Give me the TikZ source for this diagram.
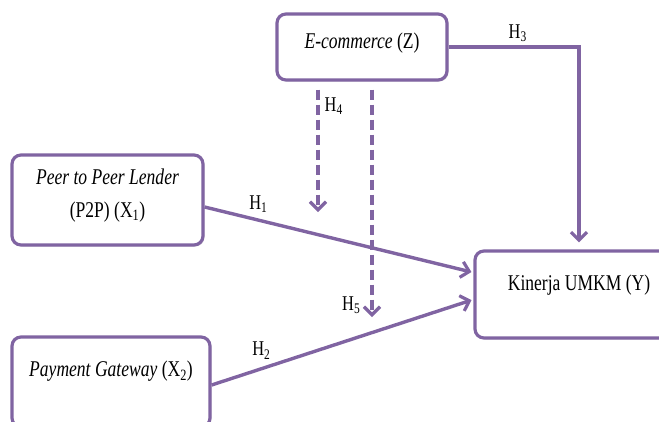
\documentclass[tikz,border=0pt]{standalone}
\usepackage{fontspec}
\setmainfont{Liberation Serif}[FakeStretch=0.78]
\usepackage{tikz}
\usetikzlibrary{positioning,calc,arrows.meta,shadows}

\definecolor{ungu}{HTML}{8064A2}

\tikzset{
	varbox/.style={draw=ungu, line width=3.2pt, rounded corners=9pt, fill=white,
		align=center, font=\fontsize{22.5}{33}\selectfont,
		drop shadow={opacity=0.25, shadow xshift=1.5pt, shadow yshift=-1.5pt}},
	hlabel/.style={font=\fontsize{21}{24}\selectfont, inner sep=1pt},
	arr/.style={draw=ungu, line width=3.4pt, -{Straight Barb[length=8pt, width=16pt, line width=3.2pt]}},
	darr/.style={arr, dash pattern=on 10pt off 5pt}
}

\begin{document}
\begin{tikzpicture}[x=1pt, y=-1pt]
		\clip (0,0) rectangle (659,421);
		\node[varbox, minimum width=170pt, minimum height=66pt, text depth=12pt] (Z) at (362,47) {\textit{E-commerce} (Z)};
		\node[varbox, minimum width=191pt, minimum height=90pt, text depth=14pt] (X1) at (107.5,200) {\textit{Peer to Peer Lender}\\(P2P) (X\textsubscript{1})};
		\node[varbox, minimum width=198pt, minimum height=90pt, text depth=26pt] (X2) at (111,382) {\textit{Payment Gateway} (X\textsubscript{2})};
		\node[varbox, minimum width=208pt, minimum height=87pt, text depth=24pt] (Y) at (579,294.5) {Kinerja UMKM (Y)};
		\coordinate (h4end) at (318,212);
		\coordinate (h5end) at (372,317);
		\draw[arr, shorten >=7pt] (Z.east) -| node[hlabel, pos=0.265, above=3pt] {H\textsubscript{3}} (Y.north);
		\draw[arr, shorten >=2pt] ([yshift=-7pt]X1.east) -- node[hlabel, pos=0.2, above=5pt] {H\textsubscript{1}} ([yshift=22pt]Y.west);
		\draw[arr, shorten >=2pt] ([yshift=-3pt]X2.east) -- node[hlabel, pos=0.19, above=7pt] {H\textsubscript{2}} ([yshift=-5pt]Y.west);
		\draw[darr, shorten <=8pt] (Z.south -| h4end) -- node[hlabel, pos=0.19, right=4pt] {H\textsubscript{4}} (h4end);
		\draw[darr, shorten <=8pt] (Z.south -| h5end) -- node[hlabel, pos=0.95, left=9pt] {H\textsubscript{5}} (h5end);
\end{tikzpicture}
\end{document}
